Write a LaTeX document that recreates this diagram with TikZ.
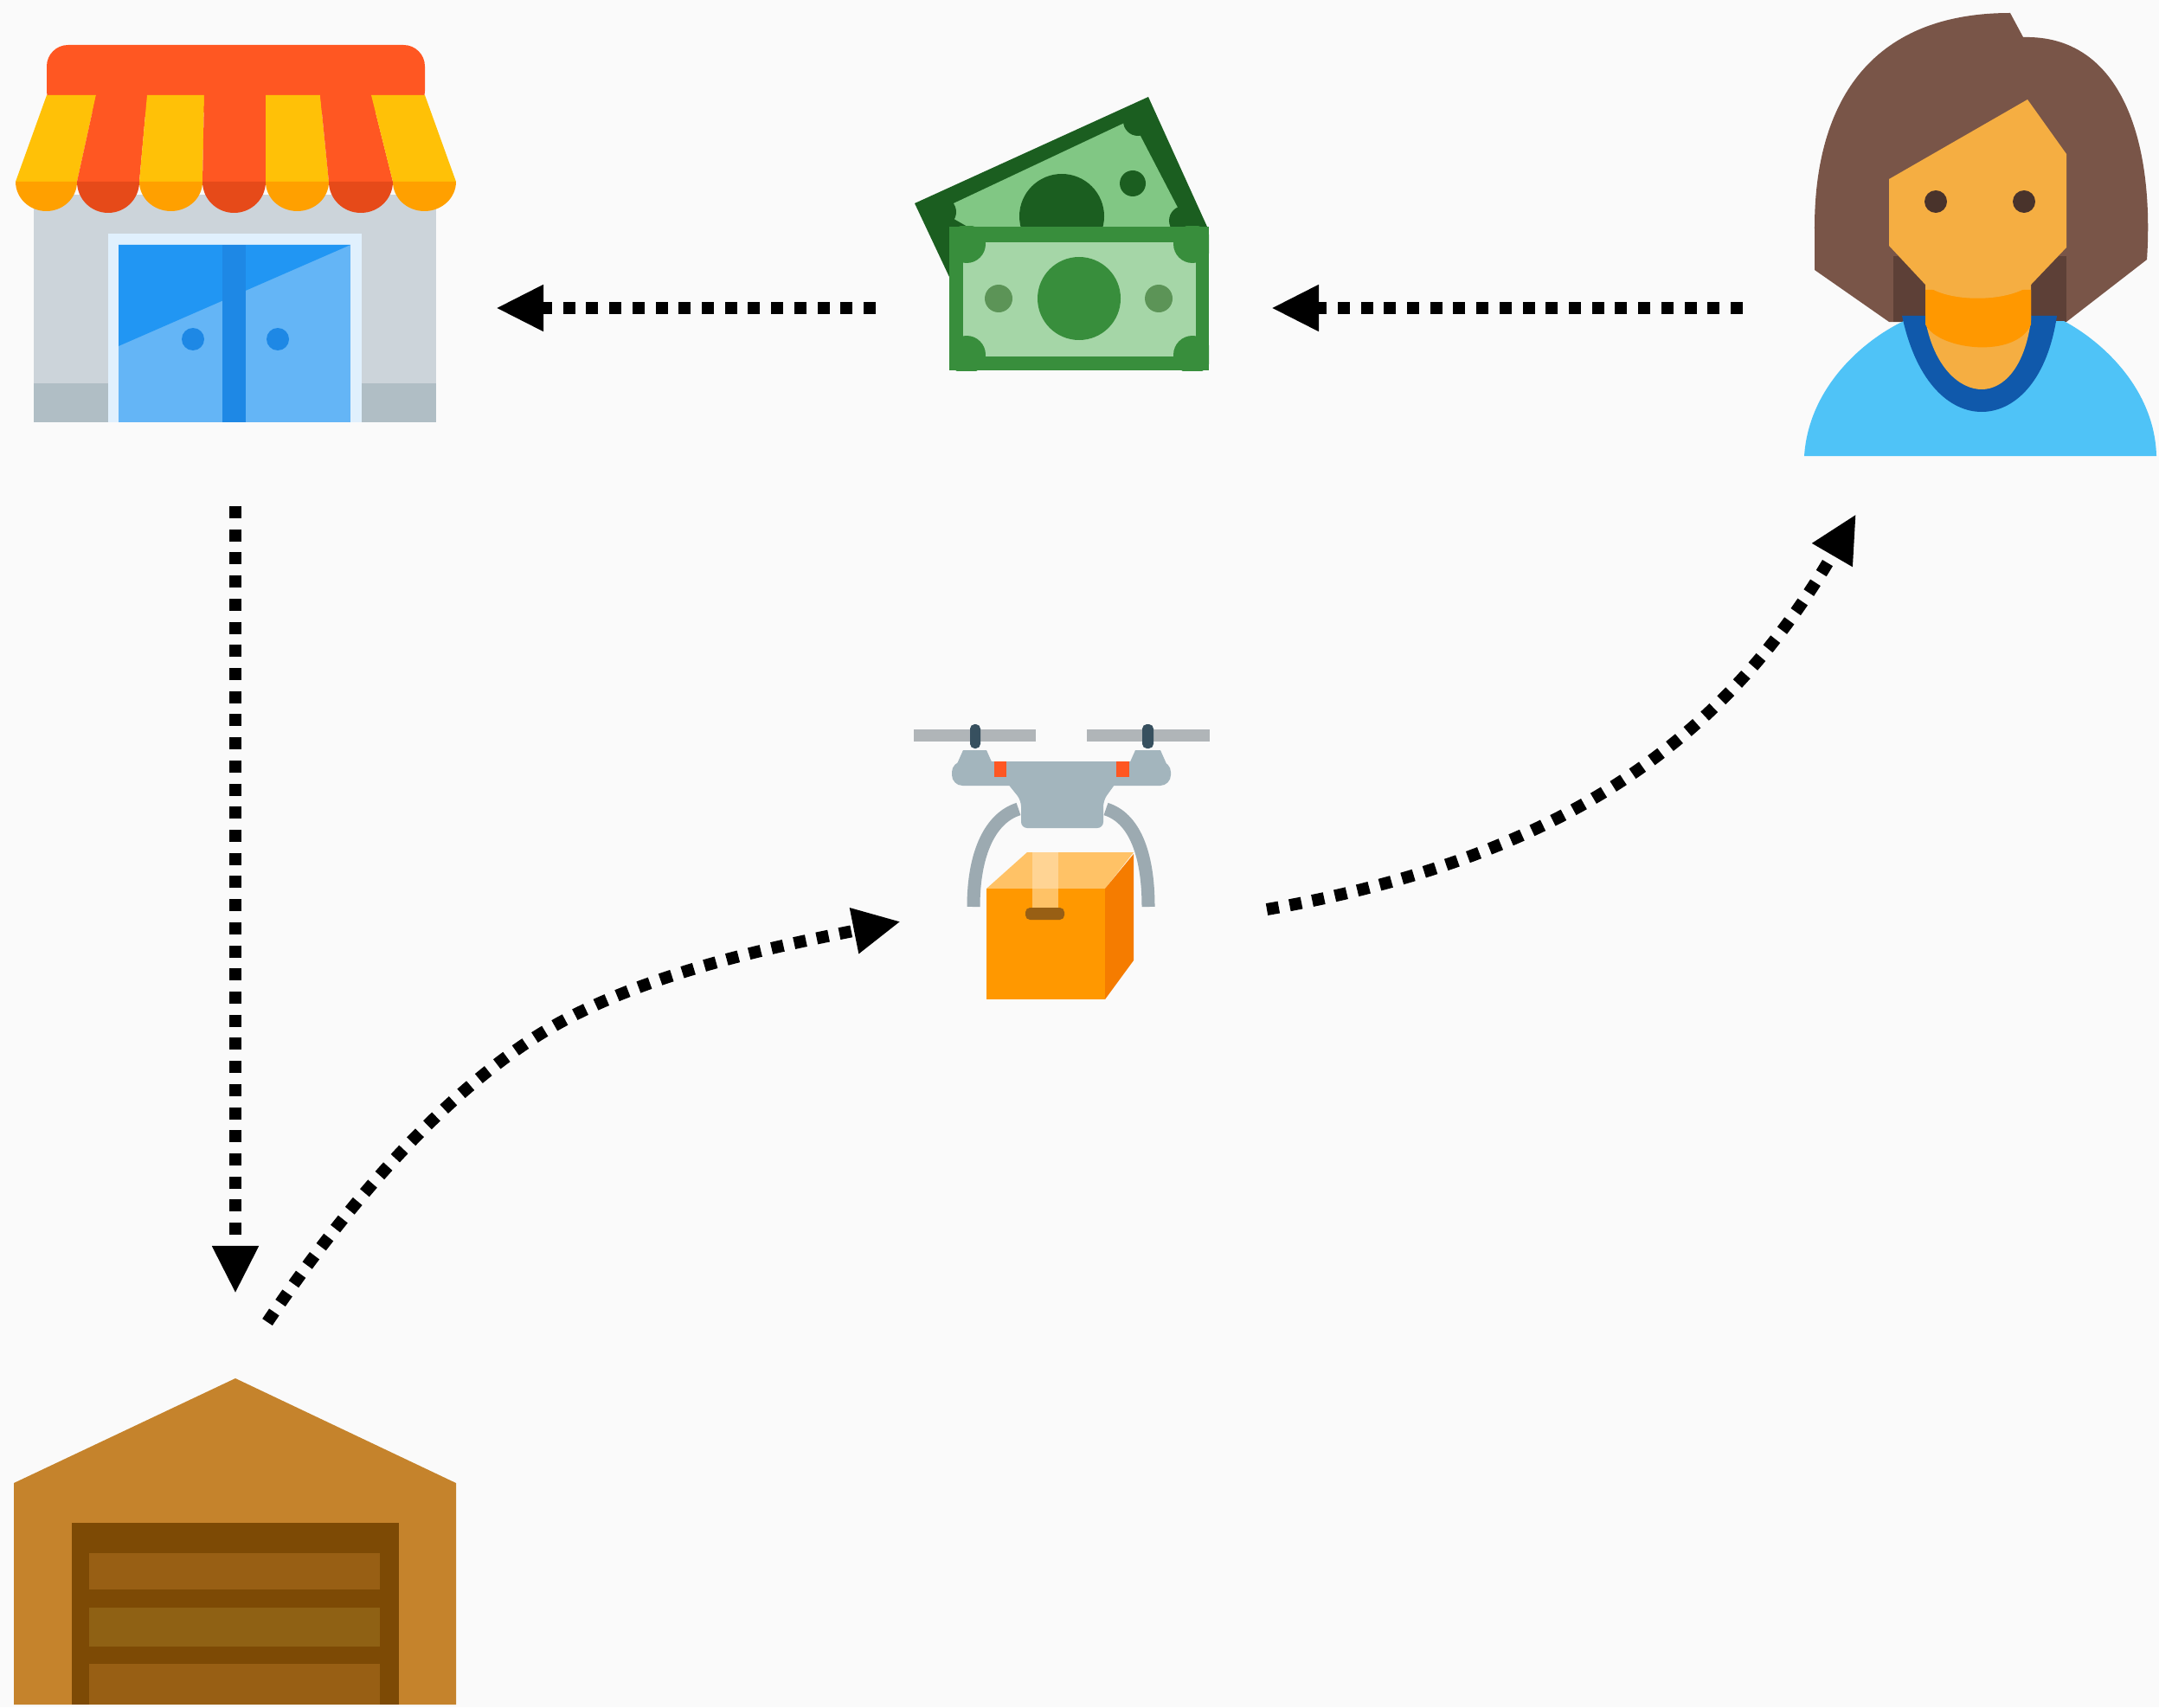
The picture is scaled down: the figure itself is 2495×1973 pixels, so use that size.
\documentclass[tikz,border=0pt]{standalone}
\usepackage{tikz}
\usetikzlibrary{arrows.meta}
\definecolor{paper}{HTML}{FAFAFA}
\definecolor{awnRed}{HTML}{FF5722}
\definecolor{awnRedD}{HTML}{E64A19}
\definecolor{awnYel}{HTML}{FFC107}
\definecolor{awnYelD}{HTML}{FFA000}
\definecolor{wallG}{HTML}{CCD4DA}
\definecolor{wallD}{HTML}{B0BEC5}
\definecolor{doorL}{HTML}{64B5F6}
\definecolor{doorD}{HTML}{2196F3}
\definecolor{doorM}{HTML}{1E88E5}
\definecolor{noteB}{HTML}{1B5E20}
\definecolor{noteBL}{HTML}{81C784}
\definecolor{noteF}{HTML}{388E3C}
\definecolor{noteFL}{HTML}{A5D6A7}
\definecolor{noteS}{HTML}{5C9457}
\definecolor{hair}{HTML}{795548}
\definecolor{hairD}{HTML}{5D4037}
\definecolor{skin}{HTML}{F5AE42}
\definecolor{skinD}{HTML}{FF9800}
\definecolor{shirt}{HTML}{4FC3F7}
\definecolor{collar}{HTML}{1059AB}
\definecolor{droneG}{HTML}{A3B5BD}
\definecolor{rotor}{HTML}{B0B5B8}
\definecolor{shaft}{HTML}{37505F}
\definecolor{boxF}{HTML}{FF9800}
\definecolor{boxS}{HTML}{F57C00}
\definecolor{boxT}{HTML}{FFC266}
\definecolor{depotB}{HTML}{C5832C}
\definecolor{depotD}{HTML}{7D4A05}
\definecolor{depotP}{HTML}{985F14}
\definecolor{depotQ}{HTML}{8F6114}
\begin{document}
\begin{tikzpicture}[x=0.01cm,y=-0.01cm]
\tikzset{dotline/.style={line width=0.14cm,dash pattern=on 0.14cm off 0.127cm,-{Triangle[length=0.55cm,width=0.5cm]}}}
\useasboundingbox (0,0) rectangle (2495,1973);
\fill[paper] (0,0) rectangle (2495,1973);

% ---------- shop ----------
\fill[wallG] (39,225) rectangle (504,488);
\fill[wallD] (39,443) rectangle (504,488);
\fill[white!80!doorL] (125,270) rectangle (418,488);
\fill[doorL] (137,283) rectangle (405,488);
\fill[doorD] (137,283) -- (405,283) -- (137,400) -- cycle;
\fill[doorM] (257,283) rectangle (284,488);
\fill[doorM] (223,392) circle[radius=13];
\fill[doorM] (321,392) circle[radius=13];

\fill[awnRed,rounded corners=7] (54,130) -- (54,52) -- (491,52) -- (491,130) -- cycle;
\fill[awnYel] (54,110) -- (111,110) -- (89,210) -- (18,210) -- cycle;
\fill[awnRed] (111,110) -- (170,110) -- (161,210) -- (89,210) -- cycle;
\fill[awnYel] (170,110) -- (236,110) -- (234,210) -- (161,210) -- cycle;
\fill[awnRed] (236,110) -- (307,110) -- (307,210) -- (234,210) -- cycle;
\fill[awnYel] (307,110) -- (370,110) -- (380,210) -- (307,210) -- cycle;
\fill[awnRed] (370,110) -- (429,110) -- (454,210) -- (380,210) -- cycle;
\fill[awnYel] (429,110) -- (491,110) -- (527,210) -- (454,210) -- cycle;
\fill[awnYelD] (89,210) arc[start angle=0,end angle=180,x radius=35.5,y radius=34] -- cycle;
\fill[awnRedD] (161,210) arc[start angle=0,end angle=180,x radius=36,y radius=36] -- cycle;
\fill[awnYelD] (234,210) arc[start angle=0,end angle=180,x radius=36.5,y radius=34] -- cycle;
\fill[awnRedD] (307,210) arc[start angle=0,end angle=180,x radius=36.5,y radius=36] -- cycle;
\fill[awnYelD] (380,210) arc[start angle=0,end angle=180,x radius=36.5,y radius=34] -- cycle;
\fill[awnRedD] (454,210) arc[start angle=0,end angle=180,x radius=37,y radius=36] -- cycle;
\fill[awnYelD] (527,210) arc[start angle=0,end angle=180,x radius=36.5,y radius=34] -- cycle;

% ---------- money ----------
\fill[noteB] (1057,235) -- (1327,112) -- (1395,262) -- (1097,320) -- cycle;
\fill[noteBL] (1085,243) -- (1308,138) -- (1373,263) -- (1120,263) -- cycle;
\begin{scope}
\clip (1057,235) -- (1327,112) -- (1397,262) -- (1097,262) -- cycle;
\fill[noteB] (1088,245) circle[radius=17];
\fill[noteB] (1315,140) circle[radius=17];
\fill[noteB] (1368,255) circle[radius=17];
\fill[noteB] (1227,250) circle[radius=49];
\end{scope}
\fill[noteB] (1309,212) circle[radius=15];
\fill[noteF] (1097,262) rectangle (1397,428);
\fill[noteFL] (1113,280) rectangle (1382,412);
\begin{scope}
\clip (1097,262) rectangle (1397,428);
\fill[noteF] (1117,282) circle[radius=22];
\fill[noteF] (1378,282) circle[radius=22];
\fill[noteF] (1117,410) circle[radius=22];
\fill[noteF] (1378,410) circle[radius=22];
\end{scope}
\fill[noteF] (1247,345) circle[radius=48];
\fill[noteS] (1154,345) circle[radius=16];
\fill[noteS] (1339,345) circle[radius=16];

% ---------- woman ----------
\fill[hair] (2097,312) -- (2097,270) .. controls (2095,120) and (2160,15) .. (2323,15) -- (2338,43) .. controls (2450,40) and (2490,160) .. (2481,300) -- (2388,372) -- (2183,372) -- cycle;
\fill[hairD] (2188,296) rectangle (2388,372);
\fill[shirt] (2085,527) .. controls (2090,450) and (2150,395) .. (2200,371) -- (2385,371) .. controls (2430,395) and (2490,450) .. (2492,527) -- cycle;
\fill[collar] (2198,365) .. controls (2215,445) and (2255,476) .. (2290,476) .. controls (2325,476) and (2365,445) .. (2377,365) -- cycle;
\fill[skin] (2225,320) -- (2225,370) .. controls (2235,425) and (2265,450) .. (2290,450) .. controls (2315,450) and (2340,425) .. (2347,370) -- (2347,320) -- cycle;
\fill[skinD] (2225,335) -- (2225,375) .. controls (2240,405) and (2330,415) .. (2347,375) -- (2347,335) -- cycle;
\fill[skin] (2183,207) -- (2343,115) -- (2388,178) -- (2388,286) -- (2347,329) .. controls (2320,350) and (2250,350) .. (2225,329) -- (2183,284) -- cycle;
\fill[hair!60!black] (2237,233) circle[radius=13];
\fill[hair!60!black] (2339,233) circle[radius=13];

% ---------- drone ----------
\fill[rotor] (1056,843) rectangle (1197,857);
\fill[rotor] (1256,843) rectangle (1398,857);
\fill[shaft,rounded corners=1.5] (1121,837) rectangle (1133,865);
\fill[shaft,rounded corners=1.5] (1320,837) rectangle (1333,865);
\fill[droneG] (1105,885) -- (1113,867) -- (1140,867) -- (1148,885) -- cycle;
\fill[droneG] (1304,885) -- (1312,867) -- (1341,867) -- (1349,885) -- cycle;
\draw[droneG!80!gray,line width=0.15cm] (1177,935) .. controls (1145,945) and (1125,985) .. (1125,1048);
\draw[droneG!80!gray,line width=0.15cm] (1278,935) .. controls (1310,945) and (1327,985) .. (1327,1048);
\fill[droneG,rounded corners=3.5] (1100,880) rectangle (1353,908);
\fill[droneG,rounded corners=2] (1160,900) -- (1293,900) -- (1275,925) -- (1275,957) -- (1180,957) -- (1180,925) -- cycle;
\fill[awnRed] (1149,880) rectangle (1163,898);
\fill[awnRed] (1290,880) rectangle (1305,898);
\fill[boxT] (1140,1027) -- (1187,985) -- (1310,985) -- (1277,1027) -- cycle;
\fill[boxT!70!white] (1193,985) rectangle (1223,1027);
\fill[boxF] (1140,1027) rectangle (1277,1155);
\fill[boxS] (1277,1027) -- (1310,987) -- (1310,1110) -- (1277,1155) -- cycle;
\fill[boxT] (1193,1027) rectangle (1223,1049);
\fill[depotP,rounded corners=1.5] (1185,1049) rectangle (1230,1063);

% ---------- depot ----------
\fill[depotB] (16,1714) -- (272,1593) -- (527,1714) -- (527,1970) -- (16,1970) -- cycle;
\fill[depotD] (83,1760) rectangle (461,1970);
\fill[depotP] (103,1795) rectangle (439,1837);
\fill[depotQ] (103,1858) rectangle (439,1903);
\fill[depotP] (103,1923) rectangle (439,1970);

% ---------- arrows ----------
\coordinate (S1) at (272,585);
\coordinate (D1) at (272,1495);
\coordinate (D2) at (309,1528);
\coordinate (R0) at (618,1199);
\coordinate (R1) at (1041,1065);
\coordinate (R2) at (1464,1051);
\coordinate (W1) at (2145,594);
\coordinate (W2) at (2014,356);
\coordinate (M1) at (1469,356);
\coordinate (M2) at (1012,356);
\coordinate (S2) at (573,356);

\draw[dotline] (S1)--(D1);
\draw[dotline] (D2) .. controls (389,1409) and (498,1276) .. (R0) .. controls (730,1127) and (895,1094) .. (R1);
\draw[dotline] (R2) .. controls (1809,991) and (1995,852) .. (W1);
\draw[dotline] (W2)--(M1);
\draw[dotline] (M2)--(S2);

\end{tikzpicture}
\end{document}
